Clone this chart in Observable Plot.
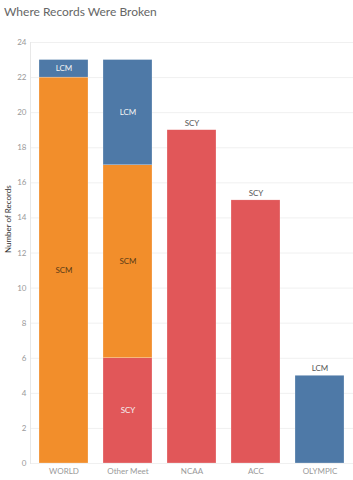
<!DOCTYPE html>
<html>
<head>
<meta charset="utf-8">
<script src="https://cdn.jsdelivr.net/npm/d3@7"></script>
<script src="https://cdn.jsdelivr.net/npm/@observablehq/plot@0.6"></script>
<style>
  html, body { margin: 0; padding: 0; background: #fff; }
  #title { font-family: Lato, "Open Sans", sans-serif; font-size: 12px; color: #666; height: 28px; line-height: 24px; padding-left: 4px; white-space: nowrap; }
</style>
</head>
<body>
<div id="title">Where Records Were Broken</div>
<div id="chart"></div>
<script>
const venues = ["WORLD", "Other Meet", "NCAA", "ACC", "OLYMPIC"];
const courses = ["SCY", "SCM", "LCM"];
const courseColors = ["#e15759", "#f28e2b", "#4e79a7"];
const recVenue  = ["WORLD", "WORLD", "Other Meet", "Other Meet", "Other Meet", "NCAA", "ACC", "OLYMPIC"];
const recCourse = ["SCM", "LCM", "SCY", "SCM", "LCM", "SCY", "SCY", "LCM"];
const recCount  = [22, 1, 6, 11, 6, 19, 15, 5];
const yTicks = [0, 2, 4, 6, 8, 10, 12, 14, 16, 18, 20, 22, 24];

const data = recVenue.map((v, i) => ({venue: v, course: recCourse[i], count: recCount[i]}));
const segCount = d3.rollup(data, g => g.length, d => d.venue);
const inside = data.filter(d => segCount.get(d.venue) > 1);
const above = data.filter(d => segCount.get(d.venue) === 1);

const chart = Plot.plot({
  width: 353,
  height: 452,
  marginTop: 14,
  marginBottom: 17,
  marginLeft: 30,
  marginRight: 0,
  style: {fontFamily: "Lato, 'Open Sans', sans-serif", fontSize: "8px", color: "#999"},
  x: {domain: venues, paddingInner: 0.24, paddingOuter: 0.12, label: null, tickSize: 0, tickPadding: 5},
  y: {domain: [0, 24], ticks: yTicks, label: null, tickSize: 0, tickPadding: 4},
  color: {domain: courses, range: courseColors},
  marks: [
    Plot.gridY(yTicks, {stroke: "#f0f0f0", strokeOpacity: 1}),
    Plot.frame({anchor: "left", stroke: "#e8e8e8"}),
    Plot.axisY({ticks: yTicks, tickSize: 0, tickPadding: 4, fill: "#999", label: null}),
    Plot.text(["Number of Records"], {frameAnchor: "left", dx: -22, rotate: -90, fill: "#333", fontSize: 8}),
    Plot.barY(data, Plot.stackY({x: "venue", y: "count", fill: "course", order: courses, stroke: "#fff", strokeWidth: 0.4, strokeOpacity: 0.6})),
    Plot.text(inside, Plot.stackY({x: "venue", y: "count", z: "course", order: courses, text: "course",
      fill: d => d.course === "SCM" ? "#5a3b17" : "#f4f4f4", fontSize: 8})),
    Plot.text(above, {x: "venue", y: "count", text: "course", dy: -7, fill: "#555", fontSize: 8})
  ]
});
document.getElementById("chart").appendChild(chart);
</script>
</body>
</html>
